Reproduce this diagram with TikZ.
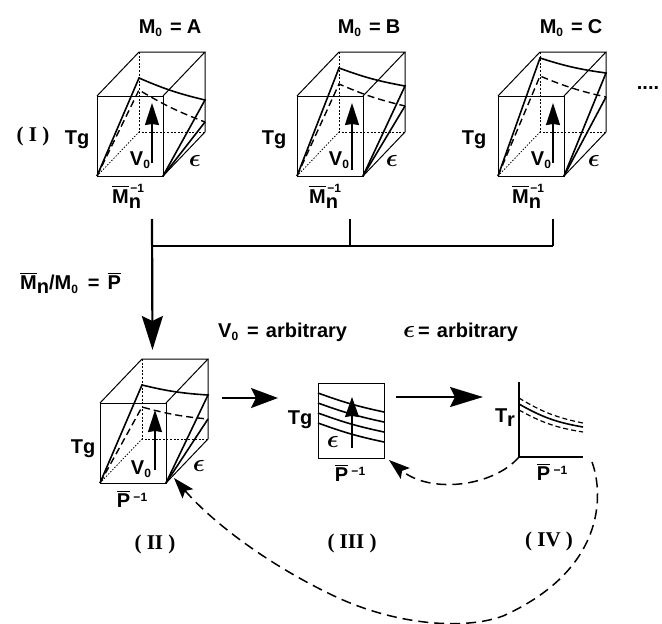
\documentclass[tikz,border=0pt]{standalone}
\usepackage{amsmath}
\usepackage{fontspec}
\setmainfont{Liberation Sans}
\newfontfamily\romfont{Liberation Serif}
\usetikzlibrary{arrows.meta}
\newcommand{\smalltxt}{\fontsize{12}{12}\selectfont}
\newcommand{\sbz}{\raisebox{-3.5pt}{\smalltxt 0}}
\newcommand{\barM}{$\overline{\text{M}}$}
\newcommand{\barP}{$\overline{\text{P}}$}
\newcommand{\invP}{\barP\,\raisebox{6pt}{\smalltxt \textminus 1}}
\newcommand{\invM}{\barM\raisebox{-5pt}{\rlap{\raisebox{16pt}{\kern1.5pt\smalltxt \textminus 1}}n}\phantom{\smalltxt 1}}
\newcommand{\lunate}{{\fontsize{24.88}{24}\selectfont\boldmath$\epsilon$}}
\tikzset{lab/.style={inner sep=0pt,font=\fontsize{20}{20}\selectfont\bfseries},
 rom/.style={inner sep=0pt,font=\fontsize{21}{21}\selectfont\romfont\bfseries},
 edge/.style={line width=1pt},
 hid/.style={line width=.8pt,dash pattern=on 2pt off 1.6pt},
 curve/.style={line width=1.6pt},
 dcurve/.style={line width=1.4pt,dash pattern=on 7pt off 4pt},
 up/.style={-{Stealth[length=22pt,width=14pt,inset=1pt]},line width=1.5pt},
 big/.style={-{Stealth[length=34pt,width=21pt,inset=5pt]},line width=2.2pt},
 back/.style={-{Stealth[length=21pt,width=14pt,inset=4pt]},line width=1.5pt,dash pattern=on 10pt off 6pt}}
\begin{document}
\begin{tikzpicture}[x=1pt,y=-1pt]
\useasboundingbox (0,0) rectangle (662,624);
% cubes: name/left/bottom/solid left,right/dashed left,right/arrow tail
\foreach \n/\ox/\oy/\a/\b/\c/\d/\t in {A/97/176/54/32/42/10/-13,B/297/176/64/46/48/26/-6,
  C/498/176/74/59/56/35/-13,II/100/483/54/44/32/20/-13}{
 \begin{scope}[shift={(\ox,\oy)}]
 \coordinate (\n fl) at (0,0);\coordinate (\n fr) at (66,0);
 \coordinate (\n tl) at (0,-80);\coordinate (\n tr) at (66,-80);
 \coordinate (\n bl) at (42,-44);\coordinate (\n br) at (108,-44);
 \coordinate (\n cl) at (42,-124);\coordinate (\n cr) at (108,-124);
 \draw[edge] (\n fl)--(\n fr)--(\n tr)--(\n tl)--cycle;
 \draw[edge] (\n tl)--(\n cl)--(\n cr)--(\n tr);
 \draw[edge] (\n cr)--(\n br)--(\n fr);
 \draw[hid] (\n cl)--(\n bl)--(\n br);
 \draw[hid,dash pattern=on 1.4pt off 1.6pt] (\n fl)--(\n bl);
 \draw[curve] (\n fl)--(42,-44-\a) to[bend right=5] (108,-44-\b)--(\n fr);
 \draw[dcurve] (\n fl)--(42,-44-\c) to[bend right=5] (108,-44-\d);
 \draw[curve] (108,-44-\d)--(\n fr);
 \draw[up] (55,\t)--(55,-73);
 \end{scope}}
% labels of the cubes
\node[lab] (mA) at (170,28) {M\sbz\hspace{8pt}=\hspace{5pt}A};
\node[lab] (mB) at (369,28) {M\sbz\hspace{8pt}=\hspace{5pt}B};
\node[lab] (mC) at (571,28) {M\sbz\hspace{8pt}=\hspace{5pt}C};
\foreach \nm/\tgx/\vox/\epx/\mnx in {A/77/140/195/130,B/274/339/392/327,C/474/541/594/530}{
 \node[lab] (tg\nm) at (\tgx,140) {Tg};
 \node[lab] (vo\nm) at (\vox,160) {V\sbz};
 \node[lab] (ep\nm) at (\epx,161) {\lunate};
 \node[lab] (mn\nm) at (\mnx,196) {\invM};
}
\node[lab] (tgII) at (83,449) {Tg};
\node[lab] (voII) at (141,469) {V\sbz};
\node[lab] (epII) at (199,466) {\lunate};
\node[lab] (pII) at (132,499) {\invP};
\node[rom] (romI) at (33,136) {( I )};
\node[rom] (romII) at (155,544) {( II )};
\node[rom] (romIII) at (352,543) {( III )};
\node[rom] (romIV) at (549,541) {( IV )};
\node[lab] (more) at (648,88) {....};
% bar joining the three cubes
\coordinate (ja) at (152,246);\coordinate (jb) at (350,246);\coordinate (jc) at (553,246);
\coordinate (ta) at (152,219);\coordinate (tb) at (350,219);\coordinate (tc) at (553,219);
\draw[line width=1.6pt] (ja)--(jc);
\draw[line width=1.4pt] (tb)--(jb);
\draw[line width=1.6pt] (tc)--(jc);
\coordinate (IIin) at (152.5,350);
\draw[big] (ta)--(IIin);
\node[lab,anchor=west] (ratio) at (20,283) {\barM\raisebox{-4pt}{n}/M\sbz\hspace{10pt}=\hspace{8pt}\barP};
\node[lab,anchor=west] (vfree) at (218,332) {V\sbz\hspace{9pt}=\hspace{7pt}arbitrary};
\node[lab,anchor=west] (efree) at (403,332) {\lunate\hspace{3pt}=\hspace{7pt}arbitrary};
% panel III
\coordinate (IIIa) at (318,383);\coordinate (IIIb) at (384,458);
\draw[edge] (IIIa) rectangle (IIIb);
\foreach \i in {0,1,2,3}
 {\draw[curve] (318,393+10*\i) to[bend right=4] (384,412+10*\i);}
\draw[up,-{Stealth[length=20pt,width=14pt,inset=1pt]}] (352,448)--(352,397);
\node[lab] (tgIII) at (300,420) {Tg};
\node[lab] (epIII) at (333,442) {\lunate};
\node[lab] (pIII) at (350,473) {\invP};
% panel IV
\coordinate (IVo) at (519,457);\coordinate (IVt) at (519,382);\coordinate (IVr) at (583,457);
\draw[line width=1.1pt] (IVt)--(IVo)--(IVr);
\draw[curve,line width=1.2pt,dash pattern=on 5pt off 3pt] (519,398) to[bend right=10] (583,423);
\draw[curve] (519,404) to[bend right=10] (583,427);
\draw[curve,line width=1.2pt,dash pattern=on 5pt off 3pt] (519,410) to[bend right=10] (583,432);
\node[lab] (tr) at (505,418) {T\raisebox{-4pt}{r}};
\node[lab] (pIV) at (552,472) {\invP};
% arrows between panels
\coordinate (IIout) at (222,398);\coordinate (IIIin) at (278,398);
\coordinate (IIIout) at (396,397);\coordinate (IVin) at (483,397);
\draw[big,-{Stealth[length=27pt,width=20pt,inset=5pt]}] (IIout)--(IIIin);
\draw[big,-{Stealth[length=33pt,width=20pt,inset=5pt]}] (IIIout)--(IVin);
\coordinate (IIIback) at (389,460);\coordinate (IIback) at (174,478);\coordinate (IVend) at (592,462);
\draw[back] (IVo) .. controls (493,487) and (430,494) .. (IIIback);
\draw[back] (IVend) .. controls (604,495) and (605,570) .. (503,616)
  .. controls (465,630) and (395,626) .. (330,594)
  .. controls (270,565) and (215,525) .. (IIback);
\end{tikzpicture}
\end{document}
